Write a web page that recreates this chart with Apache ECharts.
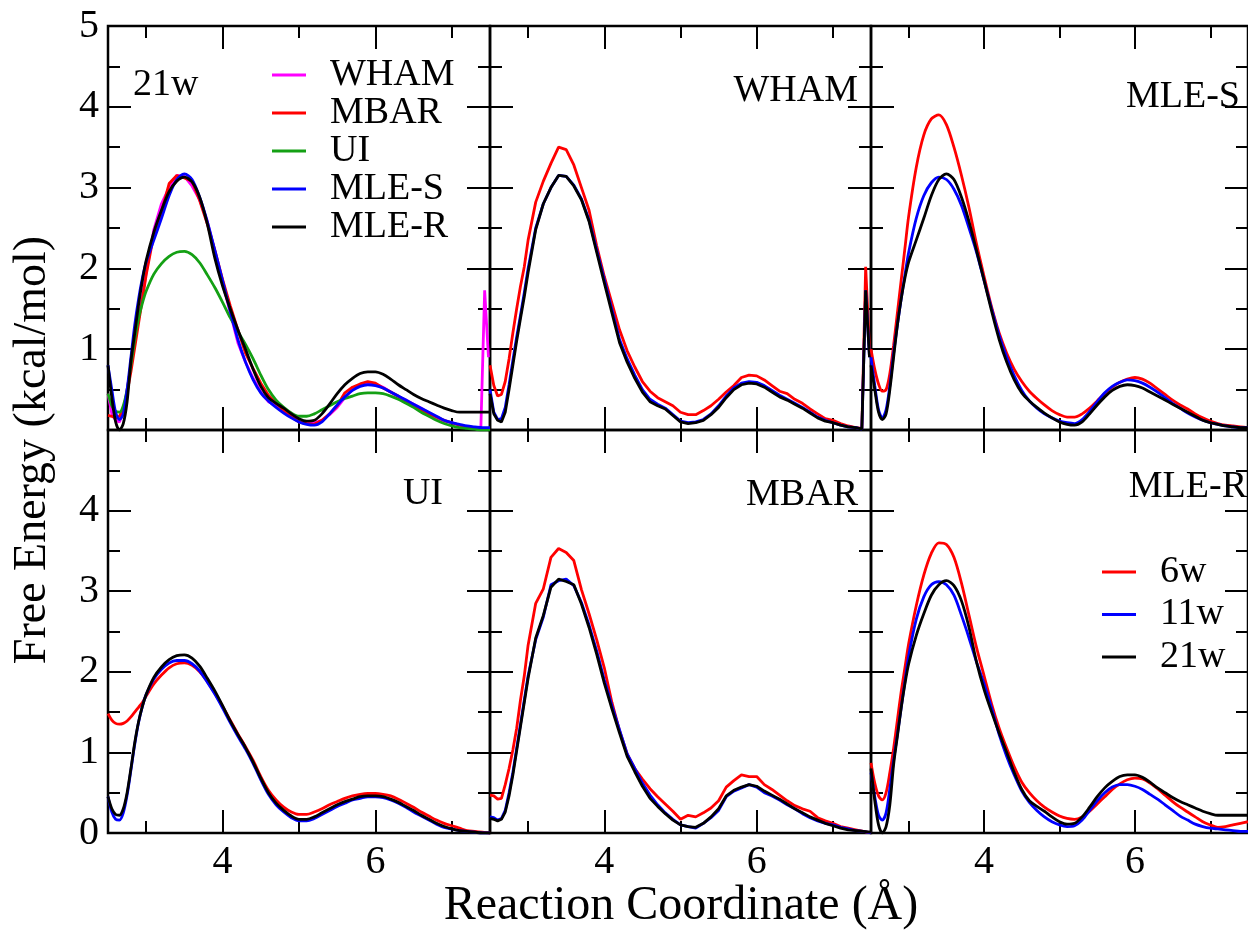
<!DOCTYPE html>
<html>
<head>
<meta charset="utf-8">
<script src="https://cdn.jsdelivr.net/npm/echarts@6/dist/echarts.min.js"></script>
<style>
html, body { margin: 0; padding: 0; background: #fff; }
#main { width: 1248px; height: 937px; }
</style>
</head>
<body>
<div id="main"></div>
<script>
// reaction coordinate (Å)
var xs = [2.5, 2.55, 2.6, 2.65, 2.7, 2.75, 2.8, 2.85, 2.9, 2.95, 3.0,
    3.1, 3.2, 3.3, 3.4, 3.5, 3.6, 3.7, 3.8, 3.9, 4.0,
    4.1, 4.2, 4.3, 4.4, 4.5, 4.6, 4.7, 4.8, 4.9, 5.0,
    5.1, 5.2, 5.3, 5.4, 5.5, 5.6, 5.7, 5.8, 5.9, 6.0,
    6.1, 6.2, 6.3, 6.4, 6.5, 6.6, 6.7, 6.8, 6.9, 7.0,
    7.1, 7.2, 7.3, 7.4, 7.5];
// WHAM has a spike in its last bins
var xsWham = [2.5, 2.55, 2.6, 2.65, 2.7, 2.75, 2.8, 2.85, 2.9, 2.95, 3.0,
    3.1, 3.2, 3.3, 3.4, 3.5, 3.6, 3.7, 3.8, 3.9, 4.0,
    4.1, 4.2, 4.3, 4.4, 4.5, 4.6, 4.7, 4.8, 4.9, 5.0,
    5.1, 5.2, 5.3, 5.4, 5.5, 5.6, 5.7, 5.8, 5.9, 6.0,
    6.1, 6.2, 6.3, 6.4, 6.5, 6.6, 6.7, 6.8, 6.9, 7.0,
    7.1, 7.2, 7.3, 7.38, 7.43, 7.48];

var wham6 = [0.8, 0.55, 0.42, 0.44, 0.6, 0.88, 1.2, 1.5, 1.78, 2.02, 2.35,
    2.82, 3.08, 3.3, 3.5, 3.47, 3.28, 3.0, 2.72, 2.28, 1.9,
    1.57, 1.24, 0.98, 0.78, 0.6, 0.48, 0.4, 0.35, 0.3, 0.22,
    0.19, 0.19, 0.24, 0.3, 0.38, 0.47, 0.55, 0.65, 0.68, 0.67,
    0.62, 0.55, 0.48, 0.45, 0.38, 0.33, 0.26, 0.2, 0.14, 0.12,
    0.08, 0.05, 0.03, 0.02, 2.02, 1.0];
var wham11 = [0.5, 0.22, 0.13, 0.14, 0.28, 0.56, 0.86, 1.15, 1.42, 1.7, 2.0,
    2.5, 2.8, 3.0, 3.15, 3.14, 3.03, 2.86, 2.6, 2.23, 1.86,
    1.49, 1.12, 0.88, 0.68, 0.5, 0.38, 0.32, 0.27, 0.19, 0.11,
    0.09, 0.1, 0.13, 0.2, 0.3, 0.42, 0.52, 0.58, 0.6, 0.59,
    0.55, 0.49, 0.43, 0.38, 0.33, 0.28, 0.22, 0.16, 0.12, 0.09,
    0.06, 0.04, 0.03, 0.01, 1.73, 0.9];
var wham21 = [0.45, 0.2, 0.12, 0.1, 0.22, 0.5, 0.8, 1.1, 1.38, 1.65, 1.95,
    2.48, 2.8, 3.0, 3.15, 3.14, 3.02, 2.85, 2.58, 2.2, 1.82,
    1.45, 1.08, 0.84, 0.64, 0.47, 0.35, 0.3, 0.26, 0.18, 0.1,
    0.08, 0.09, 0.12, 0.19, 0.28, 0.4, 0.5, 0.56, 0.58, 0.57,
    0.53, 0.47, 0.41, 0.37, 0.32, 0.27, 0.21, 0.15, 0.11, 0.09,
    0.06, 0.04, 0.03, 0.01, 1.73, 0.9];

var mbar6 = [0.47, 0.46, 0.42, 0.43, 0.6, 0.8, 1.03, 1.3, 1.65, 1.95, 2.33,
    2.85, 3.03, 3.42, 3.53, 3.48, 3.38, 3.02, 2.72, 2.4, 2.05,
    1.62, 1.27, 0.98, 0.8, 0.67, 0.55, 0.45, 0.36, 0.27, 0.17,
    0.22, 0.2, 0.25, 0.31, 0.4, 0.57, 0.65, 0.72, 0.7, 0.7,
    0.6, 0.54, 0.47, 0.4, 0.34, 0.3, 0.27, 0.19, 0.15, 0.12,
    0.08, 0.06, 0.04, 0.02, 0.0];
var mbar11 = [0.2, 0.19, 0.16, 0.18, 0.28, 0.5, 0.75, 1.05, 1.35, 1.65, 1.95,
    2.4, 2.68, 3.08, 3.13, 3.15, 3.07, 2.86, 2.58, 2.26, 1.9,
    1.58, 1.28, 0.98, 0.8, 0.62, 0.47, 0.35, 0.25, 0.17, 0.1,
    0.08, 0.06, 0.12, 0.19, 0.28, 0.45, 0.52, 0.56, 0.6, 0.57,
    0.5, 0.46, 0.41, 0.35, 0.3, 0.24, 0.19, 0.15, 0.12, 0.1,
    0.07, 0.05, 0.03, 0.02, 0.0];
var mbar21 = [0.18, 0.17, 0.15, 0.17, 0.26, 0.46, 0.72, 1.02, 1.32, 1.62, 1.92,
    2.42, 2.7, 3.05, 3.15, 3.12, 3.08, 2.84, 2.55, 2.22, 1.86,
    1.54, 1.24, 0.95, 0.76, 0.58, 0.43, 0.33, 0.24, 0.16, 0.1,
    0.08, 0.07, 0.12, 0.2, 0.3, 0.46, 0.53, 0.57, 0.6, 0.58,
    0.52, 0.47, 0.42, 0.36, 0.3, 0.25, 0.2, 0.16, 0.12, 0.09,
    0.06, 0.04, 0.03, 0.02, 0.01];

var ui6 = [1.48, 1.4, 1.36, 1.35, 1.36, 1.39, 1.44, 1.5, 1.56, 1.62, 1.7,
    1.85, 1.96, 2.05, 2.1, 2.11, 2.08, 2.0, 1.88, 1.73, 1.57,
    1.4, 1.23, 1.07, 0.9, 0.7, 0.53, 0.41, 0.32, 0.26, 0.23,
    0.23, 0.26, 0.3, 0.35, 0.39, 0.43, 0.46, 0.48, 0.49, 0.49,
    0.48, 0.46, 0.42, 0.37, 0.32, 0.26, 0.21, 0.16, 0.12, 0.09,
    0.06, 0.03, 0.02, 0.01, 0.0];
var ui11 = [0.45, 0.26, 0.17, 0.16, 0.25, 0.47, 0.78, 1.1, 1.37, 1.57, 1.72,
    1.91, 2.03, 2.11, 2.14, 2.14, 2.1, 2.01, 1.87, 1.72, 1.55,
    1.37, 1.2, 1.04, 0.86, 0.66, 0.48, 0.35, 0.26, 0.19, 0.15,
    0.15, 0.18, 0.23, 0.28, 0.33, 0.37, 0.41, 0.43, 0.45, 0.45,
    0.44, 0.41, 0.37, 0.32, 0.26, 0.21, 0.16, 0.11, 0.07, 0.05,
    0.03, 0.02, 0.01, 0.0, 0.0];
var ui21 = [0.45, 0.3, 0.23, 0.22, 0.3, 0.5, 0.8, 1.12, 1.38, 1.57, 1.72,
    1.93, 2.06, 2.15, 2.2, 2.21, 2.17, 2.07, 1.92, 1.76, 1.58,
    1.39, 1.22, 1.06, 0.88, 0.68, 0.5, 0.37, 0.28, 0.21, 0.17,
    0.17, 0.2, 0.25, 0.3, 0.35, 0.39, 0.42, 0.45, 0.46, 0.46,
    0.45, 0.42, 0.38, 0.33, 0.28, 0.22, 0.17, 0.12, 0.08, 0.05,
    0.03, 0.02, 0.01, 0.0, 0.0];

var mles6 = [1.0, 0.75, 0.57, 0.48, 0.5, 0.7, 1.05, 1.45, 1.85, 2.25, 2.65,
    3.25, 3.65, 3.85, 3.9, 3.78, 3.5, 3.15, 2.75, 2.3, 1.9,
    1.52, 1.2, 0.95, 0.75, 0.6, 0.48, 0.39, 0.31, 0.24, 0.19,
    0.16, 0.16, 0.2, 0.27, 0.36, 0.45, 0.53, 0.59, 0.63, 0.65,
    0.63, 0.58, 0.51, 0.44, 0.37, 0.31, 0.26, 0.2, 0.15, 0.11,
    0.08, 0.06, 0.05, 0.04, 0.03];
var mles11 = [0.9, 0.55, 0.25, 0.15, 0.25, 0.55, 0.95, 1.3, 1.62, 1.92, 2.2,
    2.62, 2.9, 3.06, 3.13, 3.1, 2.98, 2.78, 2.5, 2.2, 1.85,
    1.5, 1.17, 0.9, 0.67, 0.49, 0.36, 0.27, 0.2, 0.15, 0.11,
    0.09, 0.08, 0.13, 0.23, 0.35, 0.46, 0.54, 0.59, 0.62, 0.61,
    0.58, 0.53, 0.47, 0.4, 0.33, 0.27, 0.21, 0.16, 0.12, 0.09,
    0.07, 0.05, 0.04, 0.03, 0.03];
var mles21 = [0.8, 0.5, 0.22, 0.13, 0.2, 0.5, 0.9, 1.3, 1.62, 1.88, 2.08,
    2.35, 2.62, 2.9, 3.1, 3.17, 3.1, 2.88, 2.58, 2.22, 1.85,
    1.47, 1.12, 0.84, 0.62, 0.46, 0.36, 0.28, 0.21, 0.15, 0.1,
    0.07, 0.06, 0.1, 0.2, 0.31, 0.41, 0.49, 0.54, 0.56, 0.55,
    0.52, 0.47, 0.42, 0.37, 0.32, 0.27, 0.22, 0.17, 0.12, 0.09,
    0.07, 0.05, 0.04, 0.03, 0.03];

var mler6 = [0.87, 0.62, 0.46, 0.41, 0.5, 0.75, 1.05, 1.4, 1.75, 2.05, 2.35,
    2.82, 3.2, 3.47, 3.6, 3.58, 3.42, 3.1, 2.7, 2.3, 1.95,
    1.6, 1.3, 1.05, 0.82, 0.63, 0.5, 0.4, 0.32, 0.26, 0.21,
    0.18, 0.17, 0.2, 0.27, 0.36, 0.45, 0.54, 0.61, 0.66, 0.68,
    0.67, 0.62, 0.55, 0.47, 0.39, 0.32, 0.26, 0.2, 0.14, 0.1,
    0.07, 0.08, 0.1, 0.12, 0.14];
var mler11 = [0.75, 0.45, 0.22, 0.16, 0.25, 0.55, 0.9, 1.22, 1.55, 1.88, 2.2,
    2.65, 2.93, 3.08, 3.12, 3.08, 2.95, 2.7, 2.42, 2.12, 1.85,
    1.55, 1.22, 0.95, 0.72, 0.52, 0.38, 0.28, 0.2, 0.14, 0.1,
    0.08, 0.09, 0.16, 0.28, 0.4, 0.5, 0.57, 0.6, 0.6, 0.58,
    0.54, 0.48, 0.42, 0.35, 0.28, 0.21, 0.16, 0.11, 0.08, 0.06,
    0.05, 0.04, 0.03, 0.02, 0.02];
var mler21 = [0.8, 0.4, 0.1, 0.0, 0.08, 0.35, 0.85, 1.2, 1.55, 1.85, 2.1,
    2.45, 2.72, 2.95, 3.08, 3.13, 3.07, 2.88, 2.55, 2.12, 1.78,
    1.5, 1.24, 1.0, 0.75, 0.54, 0.4, 0.33, 0.27, 0.2, 0.14,
    0.11, 0.12, 0.2, 0.32, 0.45, 0.56, 0.64, 0.7, 0.72, 0.72,
    0.69, 0.63, 0.56, 0.5, 0.44, 0.39, 0.35, 0.31, 0.27, 0.24,
    0.22, 0.22, 0.22, 0.22, 0.22];

var xMajor = [4, 6];
var xMinor = [3, 5, 7];
var yMajor = [0, 1, 2, 3, 4, 5];
var yMinor = [0.5, 1.5, 2.5, 3.5, 4.5];
var yLabelsTop = [1, 2, 3, 4, 5];
var yLabelsBottom = [0, 1, 2, 3, 4];

var serif = 'Liberation Serif';

var grids = [
    { left: 108, top: 26, width: 382, height: 404 },
    { left: 490, top: 26, width: 381, height: 404 },
    { left: 871, top: 26, width: 382, height: 404 },
    { left: 108, top: 430, width: 382, height: 403 },
    { left: 490, top: 430, width: 381, height: 403 },
    { left: 871, top: 430, width: 382, height: 403 }
];

function pairs(x, y) {
    return y.map(function (v, i) { return [x[i], v]; });
}

function axis(g, pos, min, max, ticks, len, labels) {
    return {
        gridIndex: g, type: 'value', min: min, max: max, position: pos,
        axisLine: { show: false, onZero: false },
        splitLine: { show: false },
        axisTick: { show: true, inside: true, length: len, customValues: ticks,
            lineStyle: { color: '#000', width: 2 } },
        axisLabel: labels ? { show: true, customValues: labels, margin: 9,
            fontFamily: serif, fontSize: 40, color: '#000' } : { show: false }
    };
}

var xAxes = [], yAxes = [];
grids.forEach(function (g, i) {
    var bottomRow = i >= 3;
    xAxes.push(axis(i, 'bottom', 2.5, 7.5, xMajor, 23, bottomRow ? xMajor : null));
    xAxes.push(axis(i, 'bottom', 2.5, 7.5, xMinor, 12, null));
    xAxes.push(axis(i, 'top', 2.5, 7.5, xMajor, 23, null));
    xAxes.push(axis(i, 'top', 2.5, 7.5, xMinor, 12, null));
    var lab = null;
    if (i === 0) lab = yLabelsTop;
    if (i === 3) lab = yLabelsBottom;
    yAxes.push(axis(i, 'left', 0, 5, yMajor, 23, lab));
    yAxes.push(axis(i, 'left', 0, 5, yMinor, 12, null));
    yAxes.push(axis(i, 'right', 0, 5, yMajor, 23, null));
    yAxes.push(axis(i, 'right', 0, 5, yMinor, 12, null));
});

var RED = '#ff0000', BLUE = '#0000ff', BLACK = '#000000', GREEN = '#14a014', MAGENTA = '#ff00ff';

function line(g, name, x, y, color, smooth) {
    return {
        type: 'line', name: name, xAxisIndex: g * 4, yAxisIndex: g * 4,
        data: pairs(x, y), showSymbol: false, symbol: 'none', smooth: smooth ? 0.3 : false,
        itemStyle: { color: color }, lineStyle: { color: color, width: 2.8 },
        animation: false, clip: true
    };
}

var series = [
    line(0, 'WHAM', xsWham, wham21, MAGENTA, false),
    line(0, 'MBAR', xs, mbar21, RED, false),
    line(0, 'UI', xs, ui21, GREEN, true),
    line(0, 'MLE-S', xs, mles21, BLUE, true),
    line(0, 'MLE-R', xs, mler21, BLACK, true),

    line(1, '6w', xsWham, wham6, RED, false),
    line(1, '11w', xsWham, wham11, BLUE, false),
    line(1, '21w', xsWham, wham21, BLACK, false),

    line(2, '6w', xs, mles6, RED, true),
    line(2, '11w', xs, mles11, BLUE, true),
    line(2, '21w', xs, mles21, BLACK, true),

    line(3, '6w', xs, ui6, RED, true),
    line(3, '11w', xs, ui11, BLUE, true),
    line(3, '21w', xs, ui21, BLACK, true),

    line(4, '6w', xs, mbar6, RED, false),
    line(4, '11w', xs, mbar11, BLUE, false),
    line(4, '21w', xs, mbar21, BLACK, false),

    line(5, '6w', xs, mler6, RED, true),
    line(5, '11w', xs, mler11, BLUE, true),
    line(5, '21w', xs, mler21, BLACK, true)
];

function label(text, x, y, align) {
    return {
        type: 'text', x: x, y: y, z: 100,
        style: { text: text, fontFamily: serif, fontSize: 38, fill: '#000',
            textAlign: align, textVerticalAlign: 'middle' }
    };
}

var legendText = { fontFamily: serif, fontSize: 38, color: '#000', lineHeight: 38, padding: [0, 0, 0, 19] };

var option = {
    backgroundColor: '#fff',
    animation: false,
    grid: grids.map(function (g) {
        return { left: g.left, top: g.top, width: g.width, height: g.height,
            show: true, borderColor: '#000', borderWidth: 2.5, backgroundColor: 'transparent' };
    }),
    xAxis: xAxes,
    yAxis: yAxes,
    legend: [{
        data: ['WHAM', 'MBAR', 'UI', 'MLE-S', 'MLE-R'],
        orient: 'vertical', left: 272, top: 56, padding: 0,
        itemWidth: 34, itemHeight: 3, itemGap: 0, icon: 'rect', selectedMode: false,
        textStyle: legendText
    }, {
        data: ['6w', '11w', '21w'],
        orient: 'vertical', left: 1102, top: 553, padding: 0,
        itemWidth: 34, itemHeight: 3, itemGap: 4.5, icon: 'rect', selectedMode: false,
        textStyle: legendText
    }],
    graphic: [
        label('21w', 133, 85, 'left'),
        label('WHAM', 858, 91, 'right'),
        label('MLE-S', 1240, 97, 'right'),
        label('UI', 443, 494, 'right'),
        label('MBAR', 858, 495, 'right'),
        label('MLE-R', 1247, 487, 'right'),
        {
            type: 'text', x: 33, y: 450, rotation: Math.PI / 2,
            style: { text: 'Free Energy (kcal/mol)', fontFamily: serif, fontSize: 46, fill: '#000',
                textAlign: 'center', textVerticalAlign: 'middle' }
        },
        {
            type: 'text', x: 681, y: 906,
            style: { text: 'Reaction Coordinate (Å)', fontFamily: serif, fontSize: 48, fill: '#000',
                textAlign: 'center', textVerticalAlign: 'middle' }
        }
    ],
    series: series
};

var myChart = echarts.init(document.getElementById('main'));
myChart.setOption(option);
</script>
</body>
</html>
